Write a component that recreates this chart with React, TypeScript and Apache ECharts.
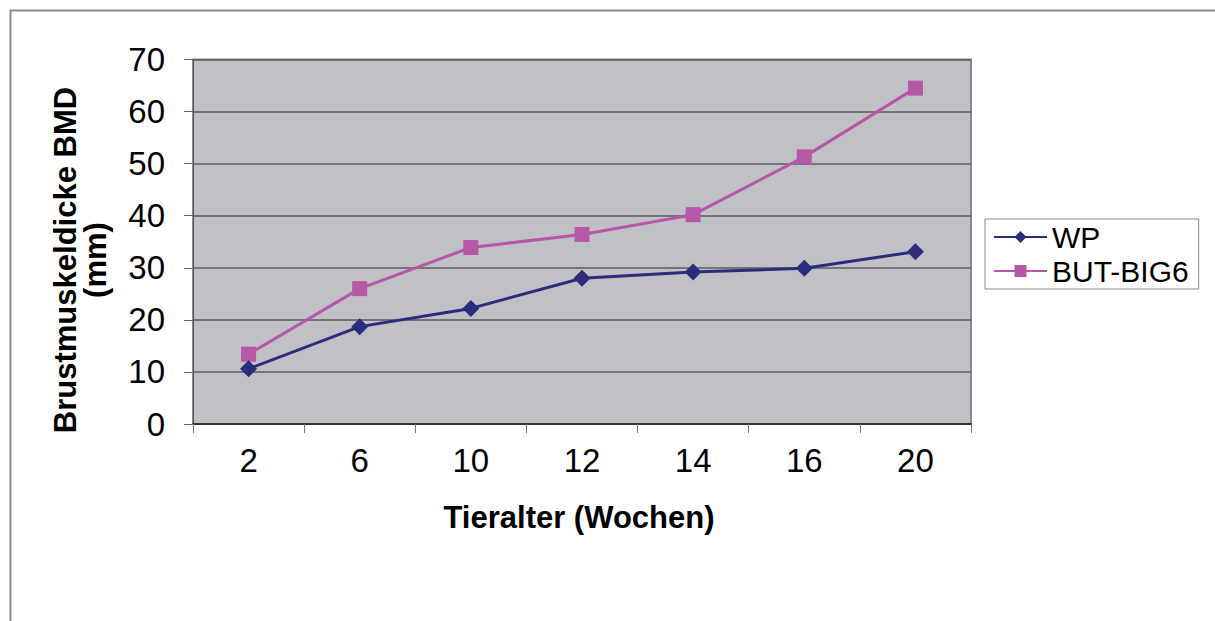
import React, { useEffect, useRef } from "react";
import * as echarts from "echarts";

const categories = ["2", "6", "10", "12", "14", "16", "20"];
const wpValues = [10.6, 18.7, 22.2, 28.0, 29.2, 29.9, 33.1];
const butBig6Values = [13.4, 26.0, 33.9, 36.4, 40.2, 51.3, 64.5];
const seriesNames = ["WP", "BUT-BIG6"];
const yMin = 0;
const yMax = 70;
const yInterval = 10;
const xTitle = "Tieralter (Wochen)";
const yTitle = "Brustmuskeldicke BMD\n(mm)";

const FONT = "Liberation Sans, Arial, sans-serif";

export default function App() {
  const ref = useRef<HTMLDivElement>(null);
  useEffect(() => {
    if (!ref.current) return;
    const chart = echarts.init(ref.current, undefined, { renderer: "svg" });
    chart.setOption({
      animation: false,
      backgroundColor: "#ffffff",
      textStyle: { fontFamily: FONT },
      grid: {
        left: 193,
        right: 244,
        top: 59.5,
        bottom: 197,
        show: true,
        backgroundColor: "#C0C1C5",
        borderColor: "#8a8a8a",
        borderWidth: 2,
      },
      legend: {
        orient: "vertical",
        left: 985,
        top: 219,
        padding: [3, 10, 3, 8],
        itemGap: 4,
        itemWidth: 53,
        itemHeight: 15,
        borderColor: "#8a8a8a",
        borderWidth: 1,
        backgroundColor: "#ffffff",
        textStyle: { fontSize: 30, fontFamily: FONT, color: "#000", lineHeight: 30 },
        data: seriesNames,
      },
      xAxis: {
        type: "category",
        data: categories,
        boundaryGap: true,
        axisLine: { show: true, lineStyle: { color: "#333333", width: 2 } },
        axisTick: { show: true, alignWithLabel: false, length: 9, lineStyle: { color: "#777777", width: 1 } },
        axisLabel: { fontSize: 33, color: "#000", margin: 20, fontFamily: FONT },
        splitLine: { show: false },
      },
      yAxis: {
        type: "value",
        min: yMin,
        max: yMax,
        interval: yInterval,
        axisLine: { show: true, lineStyle: { color: "#555555", width: 1 } },
        axisTick: { show: true, length: 9, lineStyle: { color: "#666666", width: 1 } },
        axisLabel: { fontSize: 33, color: "#000", margin: 28, fontFamily: FONT },
        splitLine: { show: true, lineStyle: { color: "#5a5a5a", width: 1.5 } },
      },
      graphic: [
        {
          type: "rect",
          shape: { x: 10.5, y: 10.5, width: 1400, height: 800 },
          style: { fill: "none", stroke: "#8a8a8a", lineWidth: 2 },
          silent: true,
          z: -10,
        },
        {
          type: "text",
          x: 579,
          y: 517,
          style: {
            text: xTitle,
            font: "bold 31px " + FONT,
            fill: "#000",
            align: "center",
            verticalAlign: "middle",
          },
        },
        {
          type: "text",
          x: 80,
          y: 260,
          rotation: Math.PI / 2,
          style: {
            text: yTitle,
            font: "bold 31px " + FONT,
            lineHeight: 30,
            fill: "#000",
            align: "center",
            verticalAlign: "middle",
          },
        },
      ],
      series: [
        {
          name: seriesNames[0],
          type: "line",
          data: wpValues,
          symbol: "diamond",
          symbolSize: 17,
          lineStyle: { color: "#2C2C7C", width: 3 },
          itemStyle: { color: "#2C2C7C" },
          z: 3,
        },
        {
          name: seriesNames[1],
          type: "line",
          data: butBig6Values,
          symbol: "rect",
          symbolSize: 15,
          lineStyle: { color: "#B657A8", width: 3 },
          itemStyle: { color: "#B657A8" },
          z: 2,
        },
      ],
    });
    return () => chart.dispose();
  }, []);
  return (
    <div
      ref={ref}
      style={{ position: "absolute", left: 0, top: 0, width: 1215, height: 621 }}
    />
  );
}
